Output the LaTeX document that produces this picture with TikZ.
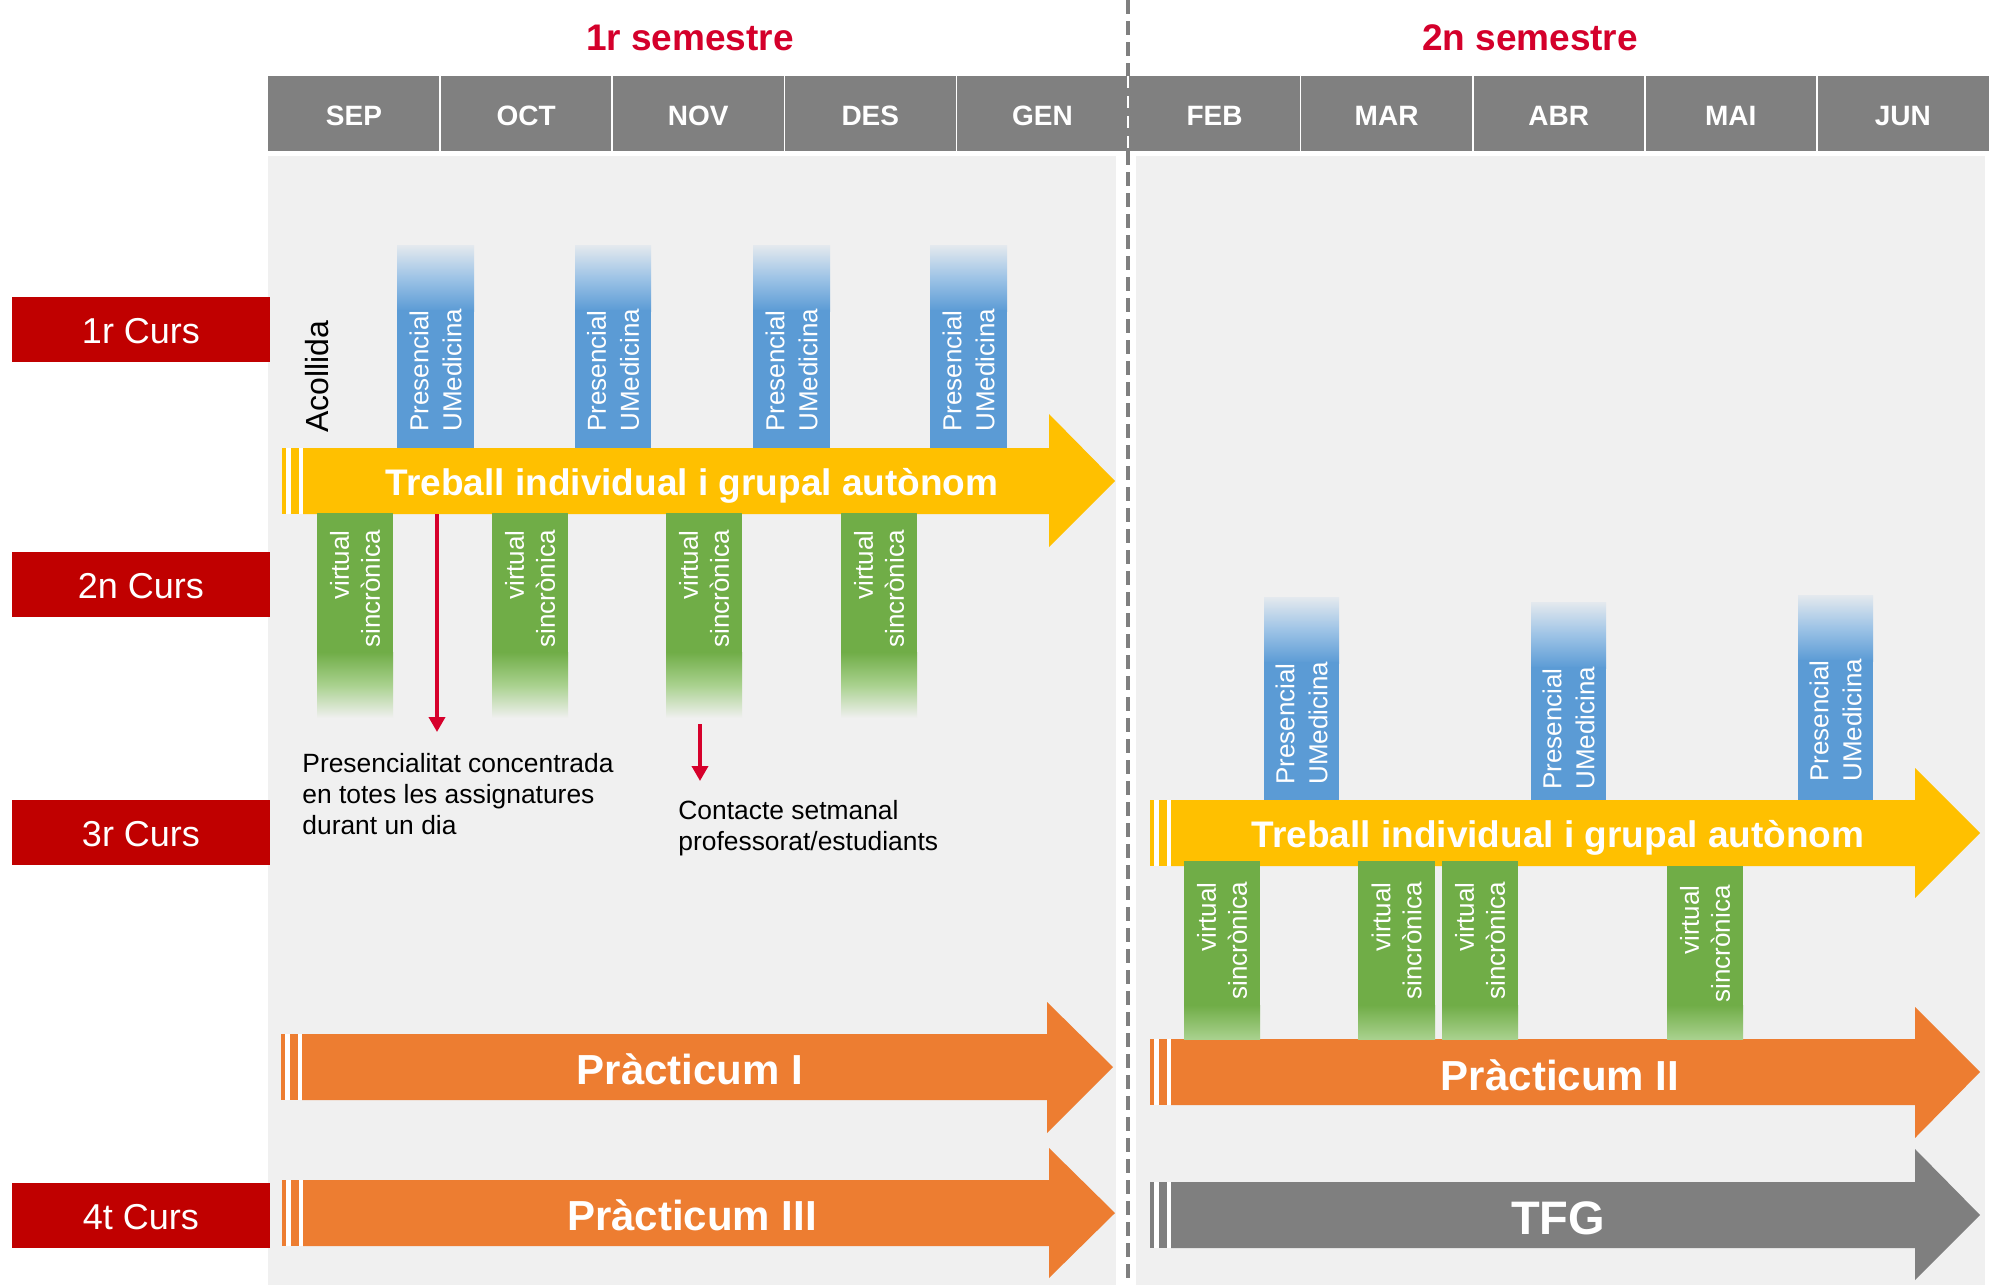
\documentclass[tikz,border=0pt]{standalone}
\usepackage{fontspec}
\setmainfont{Liberation Sans}
\usetikzlibrary{arrows.meta}
\definecolor{hdr}{HTML}{808080}
\definecolor{bgc}{HTML}{F0F0F0}
\definecolor{ylw}{HTML}{FFC000}
\definecolor{org}{HTML}{ED7D31}
\definecolor{gry}{HTML}{7F7F7F}
\definecolor{blu}{HTML}{5B9BD5}
\definecolor{grn}{HTML}{70AD47}
\definecolor{lgrn}{HTML}{A9D18E}
\definecolor{lblu}{HTML}{9DC3E6}
\definecolor{lab}{HTML}{C00000}
\definecolor{sem}{HTML}{D4002B}
\definecolor{arr}{HTML}{D6002B}
\newcommand\myarrow[8]{%
  \fill[white] (#1,#2) rectangle (#1+21,#3);
  \fill[#8] (#1,#2) rectangle (#1+4,#3);
  \fill[#8] (#1+9,#2) rectangle (#1+17,#3);
  \fill[#8] (#1+21,#2) -- (#4,#2) -- (#4,#6) -- (#5,{(#2+#3)/2}) -- (#4,#7) -- (#4,#3) -- (#1+21,#3) -- cycle;
}
\begin{document}
\begin{tikzpicture}[x=0.5pt,y=-0.5pt,
  month/.style={font=\fontsize{14}{16}\selectfont\bfseries, text=white, anchor=base, inner sep=0pt},
  semtitle/.style={font=\fontsize{18.5}{22}\selectfont\bfseries, text=sem, anchor=base, inner sep=0pt},
  cursbox/.style={fill=lab, text=white, font=\fontsize{18}{22}\selectfont, minimum width=129pt, minimum height=32.5pt, inner sep=0pt, text height=14pt, text depth=0pt},
  arrowtext/.style={text=white, font=\fontsize{18.5}{22}\selectfont\bfseries, anchor=base, inner sep=0pt},
  bigtext/.style={text=white, font=\fontsize{21}{25}\selectfont\bfseries, anchor=base, inner sep=0pt},
  bluetext/.style={text=white, font=\fontsize{13}{16.5}\selectfont, rotate=90, inner sep=0pt, align=left, anchor=west},
  greentext/.style={text=white, font=\fontsize{13}{15.5}\selectfont, rotate=90, inner sep=0pt, align=right, anchor=east},
  note/.style={font=\fontsize{13.2}{15.5}\selectfont, align=left, anchor=north west, inner sep=0pt},
  redarrow/.style={draw=arr, line width=1.8pt, -{Triangle[width=8pt,length=7.5pt]}},
  sepline/.style={draw=gry, line width=2pt, dash pattern=on 7pt off 3.5pt}
]
\useasboundingbox (0,0) rectangle (1998,1285);
\fill[white] (0,0) rectangle (1998,1285);

% content backgrounds
\fill[bgc] (268,156) rectangle (1116,1285);
\fill[bgc] (1136,156) rectangle (1985,1285);

% header
\fill[hdr] (268,76) rectangle (1989,151);
\foreach \i/\m in {0/SEP,1/OCT,2/NOV,3/DES,4/GEN,5/FEB,6/MAR,7/ABR,8/MAI,9/JUN}{
  \node[month] (m\i) at ({268+\i*172.1+86},125) {\m};
}
\foreach \i in {1,2,3,4,6,7,8,9}{
  \draw[white, line width=0.8pt] ({268+\i*172.1},76) -- ({268+\i*172.1},151);
}
\draw[white, line width=0.8pt, dash pattern=on 6pt off 4pt] (1128,76) -- (1128,151);

% semester titles
\node[semtitle] (s1) at (690,50) {1r semestre};
\node[semtitle] (s2) at (1530,50) {2n semestre};

% dashed separator
\coordinate (d0) at (1128,0);
\coordinate (d1) at (1128,76);
\coordinate (d2) at (1128,151);
\coordinate (d3) at (1128,1285);
\draw[sepline] (d0) -- (d1);
\draw[sepline] (d2) -- (d3);

% year labels
\node[cursbox] (c1) at (141,329.5) {1r Curs};
\node[cursbox] (c2) at (141,584.5) {2n Curs};
\node[cursbox] (c3) at (141,832.5) {3r Curs};
\node[cursbox] (c4) at (141,1215.5) {4t Curs};

% big arrows
\myarrow{282}{448}{514}{1049}{1115}{414}{547}{ylw}
\myarrow{281}{1034}{1100}{1047}{1113}{1002}{1133}{org}
\myarrow{282}{1180}{1246}{1049}{1115}{1148}{1278}{org}
\myarrow{1150}{800}{866}{1915}{1980}{768}{898}{ylw}
\myarrow{1150}{1039}{1105}{1915}{1980}{1007}{1138}{org}
\myarrow{1150}{1182}{1248}{1915}{1980}{1149}{1280}{gry}

% blue bars row 1
\foreach \xa/\xb in {397/474,575/651,753/830,930/1007}{
  \fill[top color=blu!8!bgc, bottom color=blu, middle color=lblu] (\xa,245) rectangle (\xb,311);
  \fill[blu] (\xa,310) rectangle (\xb,448);
}
% green bars row 1
\foreach \xa/\xb in {317/393,492/568,666/742,841/917}{
  \fill[grn] (\xa,513) rectangle (\xb,653);
  \fill[top color=grn, bottom color=bgc, middle color=lgrn] (\xa,652) rectangle (\xb,718);
}
% blue bars row 3
\foreach \xa/\xb/\yt in {1264/1339/597,1531/1606/602,1798/1873/595}{
  \fill[top color=blu!8!bgc, bottom color=blu, middle color=lblu] (\xa,\yt) rectangle (\xb,\yt+66);
  \fill[blu] (\xa,\yt+65) rectangle (\xb,800);
}
% green bars row 3
\foreach \xa/\xb/\yt in {1184/1260/861,1358/1435/861,1442/1518/861,1667/1743/866}{
  \fill[grn] (\xa,\yt) rectangle (\xb,1006);
  \fill[top color=grn, bottom color=lgrn] (\xa,1005) rectangle (\xb,1039);
}

% arrow texts
\node[arrowtext] (t1) at (692,495) {Treball individual i grupal autònom};
\node[arrowtext] (t2) at (1558,847) {Treball individual i grupal autònom};
\node[bigtext] (p1) at (690,1084) {Pràcticum I};
\node[bigtext] (p3) at (692,1230) {Pràcticum III};
\node[bigtext] (p2) at (1560,1090) {Pràcticum II};
\node[bigtext, font=\fontsize{23.5}{27}\selectfont\bfseries] (tfg) at (1558,1234) {TFG};

% vertical texts
\node[rotate=90, anchor=west, inner sep=0pt, font=\fontsize{16}{19}\selectfont] (acol) at (317,433) {Acollida};
\foreach \x/\n in {435.5/a,613/b,791.5/c,968.5/d}{
  \node[bluetext] (pr1\n) at (\x,432) {Presencial\\UMedicina};
}
\foreach \x/\n/\y in {1301.5/a/785,1568.5/b/790,1835.5/c/782}{
  \node[bluetext] (pr3\n) at (\x,\y) {Presencial\\UMedicina};
}
\foreach \x/\n in {355/a,530/b,704/c,879/d}{
  \node[greentext] (vs1\n) at (\x,530) {virtual\\sincrònica};
}
\foreach \x/\n/\y in {1222/a/882,1396.5/b/882,1480/c/882,1705/d/885}{
  \node[greentext] (vs3\n) at (\x,\y) {virtual\\sincrònica};
}

% notes and red arrows
\node[note] (n1) at (302,753) {Presencialitat concentrada\\en totes les assignatures\\durant un dia};
\node[note] (n2) at (678,800) {Contacte setmanal\\professorat/estudiants};
\coordinate (r1s) at (437,514);
\coordinate (r1e) at (437,732);
\coordinate (r2s) at (700,724);
\coordinate (r2e) at (700,781);
\draw[redarrow] (r1s) -- (r1e);
\draw[redarrow] (r2s) -- (r2e);
\end{tikzpicture}
\end{document}
